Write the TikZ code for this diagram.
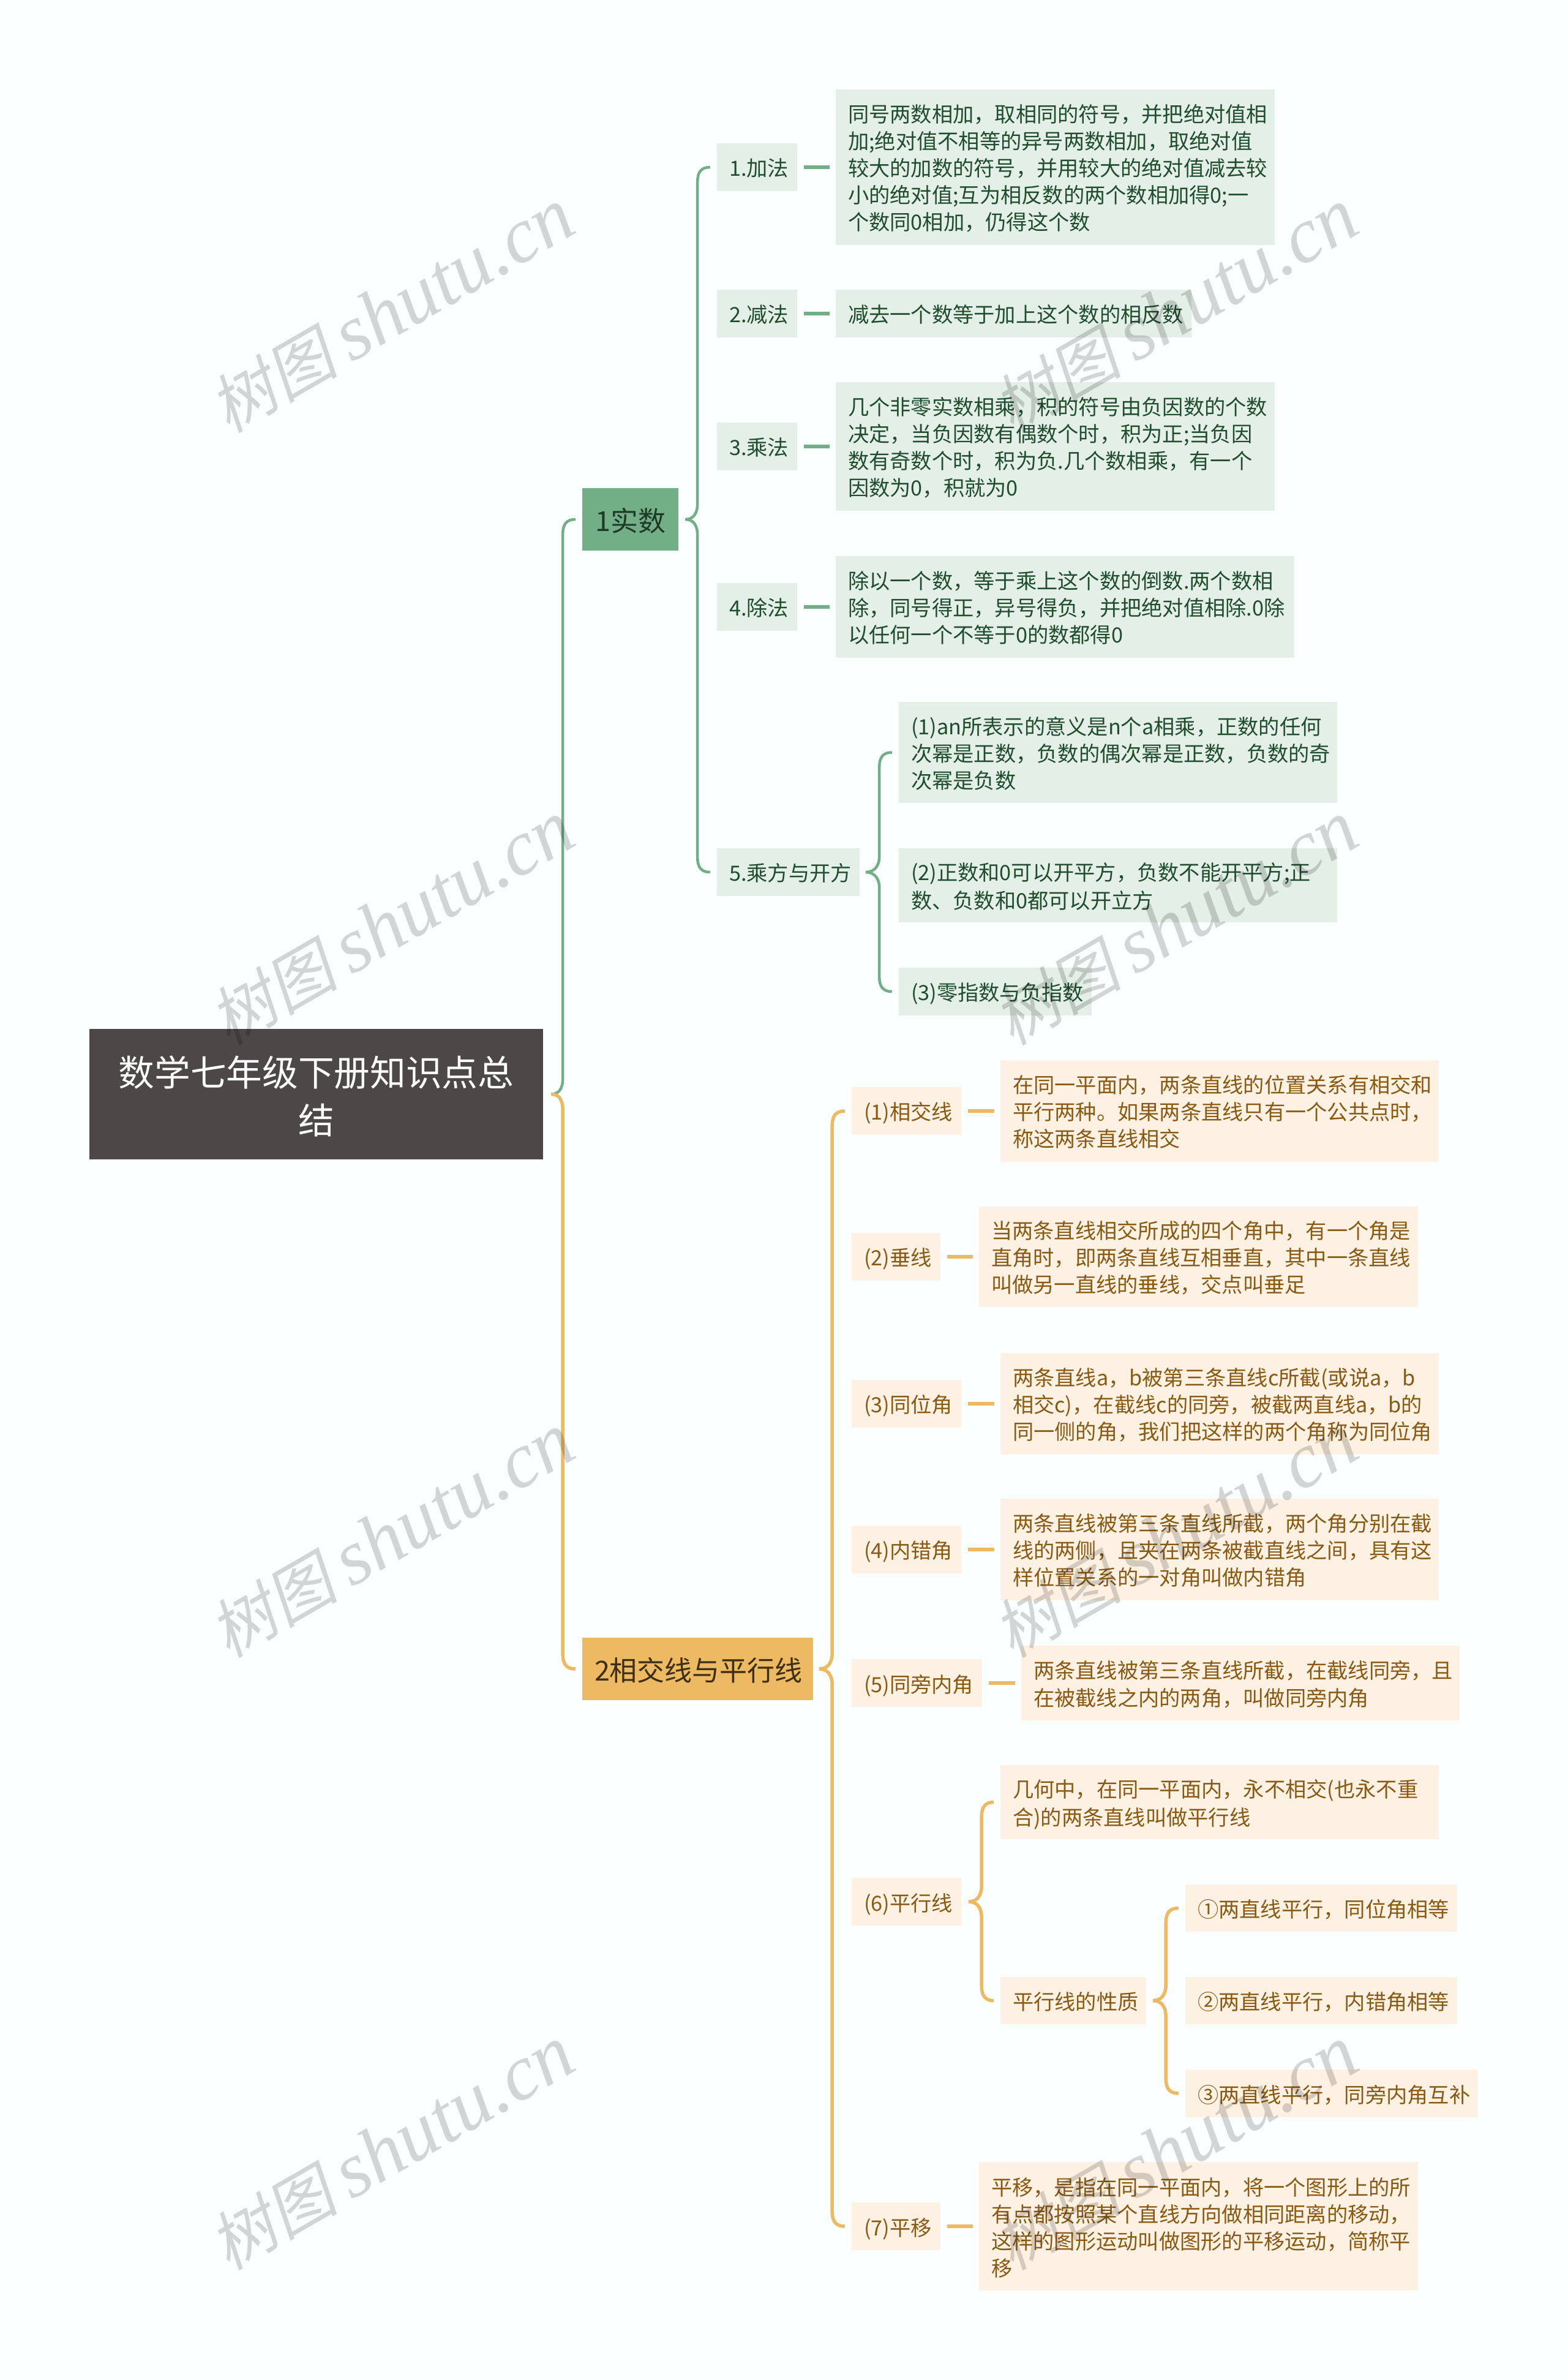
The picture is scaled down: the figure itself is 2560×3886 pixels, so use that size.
\documentclass[tikz,border=0pt]{standalone}
\usepackage{fontspec}
\setmainfont{Noto Sans CJK SC}
\newfontfamily\wmcjk[FakeSlant=0.2]{Noto Sans CJK SC}
\newfontfamily\wmlat{Liberation Serif}
\usetikzlibrary{calc}
\definecolor{bgc}{HTML}{FBFFFF}
\definecolor{rootc}{HTML}{4D4747}
\definecolor{gmain}{HTML}{72AE86}
\definecolor{glight}{HTML}{E3EFE7}
\definecolor{gtext}{HTML}{1F4D2E}
\definecolor{gmaint}{HTML}{1E3A27}
\definecolor{ymain}{HTML}{EDB963}
\definecolor{ylight}{HTML}{FDF1E3}
\definecolor{ytext}{HTML}{8A5A12}
\definecolor{ymaint}{HTML}{3C2F14}
\newcommand{\mmstrut}{\rule[-.21em]{0pt}{1.294em}}
\newcommand{\mmbox}[7]{%
  \pgfmathsetmacro{\mmw}{#4-#2}\pgfmathsetmacro{\mmh}{#5-#3}\pgfmathsetmacro{\mmtw}{#4-#2-40}%
  \node[#6,minimum width=\mmw pt,minimum height=\mmh pt,text width=\mmtw pt] (#1) at ({(#2+#4)/2},{(#3+#5)/2}) {\mmstrut #7\mmstrut};}
% curved bracket from parent to child: parent, child, colour style, tip gap, vertical offset from tip
\newcommand{\mmconn}[5]{%
  \draw[#3] let \p1=(#1.east),\p2=(#2.west),\n1={ifthenelse(\y2>\y1,1,-1)} in
    (\x1+#4pt,\y1) .. controls (\x1+#4pt+12pt,\y1) and (\x1+#4pt+#5pt,\y1+\n1*8pt) .. (\x1+#4pt+#5pt,\y1+\n1*26pt)
    -- (\x1+#4pt+#5pt,\y2-\n1*24pt) .. controls (\x1+#4pt+#5pt,\y2-\n1*8pt) and (\x1+#4pt+#5pt+6pt,\y2) .. (\x2-11pt,\y2);}
\newcommand{\mmdash}[3]{\draw[#3,line width=6pt,shorten <=11pt,shorten >=10pt] (#1.east) -- (#2.west);}
\tikzset{
  basebox/.style={rectangle,draw=none,inner xsep=20pt,inner ysep=0pt,align=left,font=\fontsize{34.25}{44}\selectfont},
  gbox/.style={basebox,fill=glight,text=gtext},
  ybox/.style={basebox,fill=ylight,text=ytext},
  gmainbox/.style={basebox,fill=gmain,text=gmaint,align=center,font=\fontsize{45}{57}\selectfont},
  ymainbox/.style={basebox,fill=ymain,text=ymaint,align=center,font=\fontsize{45}{57}\selectfont},
  rootbox/.style={basebox,fill=rootc,text=white,align=center,font=\fontsize{58.7}{78}\selectfont},
  gline/.style={draw=gmain,line width=4.5pt},
  yline/.style={draw=ymain,line width=5.5pt},
  wmark/.style={rotate=30,text=black,text opacity=.165,inner sep=0pt}
}
\begin{document}
\begin{tikzpicture}[x=1pt,y=-1pt]
\fill[bgc] (0,0) rectangle (2560,3886);
\useasboundingbox (0,0) rectangle (2560,3886);
% root and main topics
\mmbox{root}{146}{1680}{887}{1893}{rootbox}{数学七年级下册知识点总\\结}
\mmbox{real}{951}{797}{1108}{899}{gmainbox}{1实数}
\mmbox{lines}{951}{2674}{1328}{2776}{ymainbox}{2相交线与平行线}
% green branch
\mmbox{ga}{1171}{234}{1302}{312}{gbox}{1.加法}
\mmbox{gat}{1365}{146}{2082}{400}{gbox}{同号两数相加，取相同的符号，并把绝对值相\\加;绝对值不相等的异号两数相加，取绝对值\\较大的加数的符号，并用较大的绝对值减去较\\小的绝对值;互为相反数的两个数相加得0;一\\个数同0相加，仍得这个数}
\mmbox{gb}{1171}{473}{1302}{551}{gbox}{2.减法}
\mmbox{gbt}{1365}{473}{1946}{551}{gbox}{减去一个数等于加上这个数的相反数}
\mmbox{gc}{1171}{690}{1302}{768}{gbox}{3.乘法}
\mmbox{gct}{1365}{624}{2082}{834}{gbox}{几个非零实数相乘，积的符号由负因数的个数\\决定，当负因数有偶数个时，积为正;当负因\\数有奇数个时，积为负.几个数相乘，有一个\\因数为0，积就为0}
\mmbox{gd}{1171}{952}{1302}{1030}{gbox}{4.除法}
\mmbox{gdt}{1365}{908}{2114}{1074}{gbox}{除以一个数，等于乘上这个数的倒数.两个数相\\除，同号得正，异号得负，并把绝对值相除.0除\\以任何一个不等于0的数都得0}
\mmbox{ge}{1171}{1385}{1404}{1463}{gbox}{5.乘方与开方}
\mmbox{gea}{1468}{1146}{2184}{1311}{gbox}{(1)an所表示的意义是n个a相乘，正数的任何\\次幂是正数，负数的偶次幂是正数，负数的奇\\次幂是负数}
\mmbox{geb}{1468}{1385}{2184}{1506}{gbox}{(2)正数和0可以开平方，负数不能开平方;正\\数、负数和0都可以开立方}
\mmbox{gec}{1468}{1580}{1783}{1658}{gbox}{(3)零指数与负指数}
% yellow branch
\mmbox{ya}{1391}{1775}{1570}{1853}{ybox}{(1)相交线}
\mmbox{yat}{1634}{1731}{2350}{1897}{ybox}{在同一平面内，两条直线的位置关系有相交和\\平行两种。如果两条直线只有一个公共点时，\\称这两条直线相交}
\mmbox{yb}{1391}{2013}{1536}{2091}{ybox}{(2)垂线}
\mmbox{ybt}{1599}{1970}{2316}{2134}{ybox}{当两条直线相交所成的四个角中，有一个角是\\直角时，即两条直线互相垂直，其中一条直线\\叫做另一直线的垂线，交点叫垂足}
\mmbox{yc}{1391}{2253}{1570}{2331}{ybox}{(3)同位角}
\mmbox{yct}{1634}{2209}{2350}{2375}{ybox}{两条直线a，b被第三条直线c所截(或说a，b\\相交c)，在截线c的同旁，被截两直线a，b的\\同一侧的角，我们把这样的两个角称为同位角}
\mmbox{yd}{1391}{2491}{1570}{2569}{ybox}{(4)内错角}
\mmbox{ydt}{1634}{2447}{2350}{2613}{ybox}{两条直线被第三条直线所截，两个角分别在截\\线的两侧，且夹在两条被截直线之间，具有这\\样位置关系的一对角叫做内错角}
\mmbox{ye}{1391}{2709}{1604}{2787}{ybox}{(5)同旁内角}
\mmbox{yet}{1668}{2687}{2384}{2809}{ybox}{两条直线被第三条直线所截，在截线同旁，且\\在被截线之内的两角，叫做同旁内角}
\mmbox{yf}{1391}{3066}{1570}{3144}{ybox}{(6)平行线}
\mmbox{yfa}{1634}{2882}{2350}{3003}{ybox}{几何中，在同一平面内，永不相交(也永不重\\合)的两条直线叫做平行线}
\mmbox{yfb}{1634}{3228}{1872}{3305}{ybox}{平行线的性质}
\mmbox{yfba}{1936}{3077}{2380}{3154}{ybox}{①两直线平行，同位角相等}
\mmbox{yfbb}{1936}{3228}{2380}{3305}{ybox}{②两直线平行，内错角相等}
\mmbox{yfbc}{1936}{3379}{2414}{3457}{ybox}{③两直线平行，同旁内角互补}
\mmbox{yg}{1391}{3596}{1536}{3674}{ybox}{(7)平移}
\mmbox{ygt}{1599}{3530}{2316}{3740}{ybox}{平移，是指在同一平面内，将一个图形上的所\\有点都按照某个直线方向做相同距离的移动，\\这样的图形运动叫做图形的平移运动，简称平\\移}
% connectors
\mmconn{root}{real}{gline}{13}{19}
\mmconn{root}{lines}{yline}{13}{19}
\mmconn{real}{ga}{gline}{11}{20}
\mmconn{real}{ge}{gline}{11}{20}
\mmconn{ge}{gea}{gline}{10}{22}
\mmconn{ge}{gec}{gline}{10}{22}
\mmconn{lines}{ya}{yline}{10}{21}
\mmconn{lines}{yg}{yline}{10}{21}
\mmconn{yf}{yfa}{yline}{12}{21}
\mmconn{yf}{yfb}{yline}{12}{21}
\mmconn{yfb}{yfba}{yline}{11}{21}
\mmconn{yfb}{yfbc}{yline}{11}{21}
\mmdash{ga}{gat}{gline}
\mmdash{gb}{gbt}{gline}
\mmdash{gc}{gct}{gline}
\mmdash{gd}{gdt}{gline}
\mmdash{ya}{yat}{yline}
\mmdash{yb}{ybt}{yline}
\mmdash{yc}{yct}{yline}
\mmdash{yd}{ydt}{yline}
\mmdash{ye}{yet}{yline}
\mmdash{yg}{ygt}{yline}
% watermark
\foreach \wi/\wx in {a/640,b/1920}{
  \foreach \wj/\wy in {a/508,b/1508,c/2508,d/3508}{
    \node[wmark] (wm\wi\wj) at (\wx,\wy) {{\fontsize{105}{120}\selectfont\wmcjk 树图}\hspace{22pt}{\fontsize{128}{140}\selectfont\wmlat\itshape shutu.cn}};
  }
}
\end{tikzpicture}
\end{document}
